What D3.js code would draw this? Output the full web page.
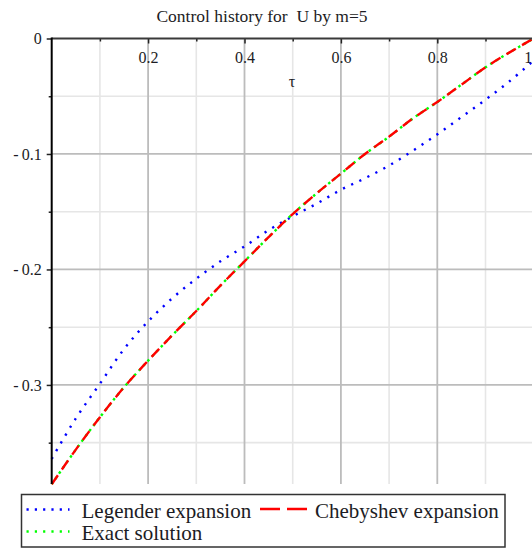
<!DOCTYPE html>
<html>
<head>
<meta charset="utf-8">
<script src="https://cdn.jsdelivr.net/npm/d3@7"></script>
<style>
  html, body { margin: 0; padding: 0; background: #fff; }
  svg { display: block; }
  text { font-family: "Liberation Serif", "Times New Roman", serif; fill: #1c1c24; }
</style>
</head>
<body>
<script>
// ---- data ----
const tau = [0, 0.05, 0.1, 0.15, 0.2, 0.25, 0.3, 0.35, 0.4, 0.45, 0.5, 0.55, 0.6, 0.65, 0.7, 0.75, 0.8, 0.85, 0.9, 0.95, 1.0];
const legendreU = [-0.364, -0.329, -0.299, -0.269, -0.245, -0.225, -0.208, -0.193, -0.180, -0.166, -0.154, -0.143, -0.131, -0.121, -0.110, -0.097, -0.083, -0.068, -0.053, -0.037, -0.019];
const chebyshevU = [-0.386, -0.356, -0.328, -0.302, -0.279, -0.257, -0.236, -0.214, -0.193, -0.172, -0.152, -0.134, -0.117, -0.100, -0.085, -0.069, -0.055, -0.040, -0.025, -0.012, 0.000];
const exactU = [-0.386, -0.356, -0.328, -0.302, -0.279, -0.257, -0.236, -0.214, -0.193, -0.172, -0.152, -0.134, -0.117, -0.100, -0.085, -0.069, -0.055, -0.040, -0.025, -0.012, 0.000];
const xMajorTicks = [0.2, 0.4, 0.6, 0.8, 1];
const xMinorTicks = [0.1, 0.3, 0.5, 0.7, 0.9];
const yMajorTicks = [0, -0.1, -0.2, -0.3];
const yMinorTicks = [-0.05, -0.15, -0.25, -0.35];
const seriesNames = ["Legender expansion", "Chebyshev expansion", "Exact solution"];
const titleText = "Control history for  U by m=5";
const xLabel = "τ";

// ---- layout ----
const W = 532, H = 549;
const x = d3.scaleLinear().domain([0, 1]).range([51.7, 533.7]);
const y = d3.scaleLinear().domain([0, -0.3858]).range([38.5, 484]);
const yBottom = 484, xRight = 532;

const svg = d3.select("body").append("svg").attr("width", W).attr("height", H);

// gridlines
const grid = svg.append("g");
grid.selectAll(".vmin").data(xMinorTicks).join("line")
  .attr("x1", d => x(d)).attr("x2", d => x(d)).attr("y1", y(0)).attr("y2", yBottom)
  .attr("stroke", "#e6e6e6").attr("stroke-width", 1.6);
grid.selectAll(".hmin").data(yMinorTicks).join("line")
  .attr("x1", x(0)).attr("x2", xRight).attr("y1", d => y(d)).attr("y2", d => y(d))
  .attr("stroke", "#e6e6e6").attr("stroke-width", 1.6);
grid.selectAll(".vmaj").data(xMajorTicks).join("line")
  .attr("x1", d => x(d)).attr("x2", d => x(d)).attr("y1", y(0)).attr("y2", yBottom)
  .attr("stroke", "#bcbcbc").attr("stroke-width", 1.8);
grid.selectAll(".hmaj").data(yMajorTicks.filter(d => d !== 0)).join("line")
  .attr("x1", x(0)).attr("x2", xRight).attr("y1", d => y(d)).attr("y2", d => y(d))
  .attr("stroke", "#bcbcbc").attr("stroke-width", 1.8);

// curves
const mk = vals => tau.map((t, i) => [t, vals[i]]);
const line = d3.line().x(d => x(d[0])).y(d => y(d[1])).curve(d3.curveCatmullRom.alpha(0.5));
svg.append("path").attr("d", line(mk(legendreU))).attr("fill", "none")
  .attr("stroke", "#0000ff").attr("stroke-width", 2.4).attr("stroke-dasharray", "2.2,6.8");
svg.append("path").attr("d", line(mk(exactU))).attr("fill", "none")
  .attr("stroke", "#00ff00").attr("stroke-width", 2.4).attr("stroke-dasharray", "2.5,4");
svg.append("path").attr("d", line(mk(chebyshevU))).attr("fill", "none")
  .attr("stroke", "#ff0000").attr("stroke-width", 2.4).attr("stroke-dasharray", "11,7");

// axes
const fmtY = d => d === 0 ? "0" : "-\u2009" + d3.format(".1f")(-d);
const fmtX = d => d === 1 ? "1" : d3.format(".1f")(d);

const xMaj = svg.append("g").attr("transform", `translate(0,${y(0)})`)
  .call(d3.axisBottom(x).tickValues(xMajorTicks).tickSize(5).tickPadding(7.8).tickFormat(fmtX));
const xMin = svg.append("g").attr("transform", `translate(0,${y(0)})`)
  .call(d3.axisBottom(x).tickValues(xMinorTicks).tickSize(3).tickFormat(""));
const yMaj = svg.append("g").attr("transform", `translate(${x(0)},0)`)
  .call(d3.axisLeft(y).tickValues(yMajorTicks).tickSize(5).tickPadding(5).tickFormat(fmtY));
const yMin = svg.append("g").attr("transform", `translate(${x(0)},0)`)
  .call(d3.axisLeft(y).tickValues(yMinorTicks).tickSize(3).tickFormat(""));

[xMaj, xMin, yMaj, yMin].forEach(g => {
  g.select(".domain").remove();
  g.selectAll(".tick line").attr("stroke", "#222").attr("stroke-width", 1.5);
  g.selectAll(".tick text").attr("font-size", 16).attr("font-family", "Liberation Serif, serif").attr("fill", "#1c1c24");
});
// keep the "1" label inside the picture
xMaj.selectAll(".tick").filter(d => d === 1).select("text").attr("x", -6);

// axis lines
svg.append("line").attr("x1", x(0)).attr("x2", xRight).attr("y1", y(0)).attr("y2", y(0))
  .attr("stroke", "#3a3a3a").attr("stroke-width", 2);
svg.append("line").attr("x1", x(0)).attr("x2", x(0)).attr("y1", y(0) - 1).attr("y2", yBottom)
  .attr("stroke", "#000").attr("stroke-width", 2);

// title & axis label
svg.append("text").attr("x", 262).attr("y", 22).attr("text-anchor", "middle")
  .attr("font-size", 17.5).style("white-space", "pre").text(titleText);
svg.append("text").attr("x", 292).attr("y", 87).attr("text-anchor", "middle")
  .attr("font-size", 16).text(xLabel);

// legend
const lg = svg.append("g");
lg.append("rect").attr("x", 21.5).attr("y", 494.5).attr("width", 483.5).attr("height", 52.5)
  .attr("fill", "#fff").attr("stroke", "#333").attr("stroke-width", 1.5);
const legendItems = [
  { name: seriesNames[0], color: "#0000ff", dash: "2.2,6.1", len: 43, lx: 26.5, ly: 509.5, tx: 81.5, ty: 518 },
  { name: seriesNames[1], color: "#ff0000", dash: "20,7", len: 47, lx: 260, ly: 509, tx: 315, ty: 518 },
  { name: seriesNames[2], color: "#00ff00", dash: "2.2,6.1", len: 43, lx: 26.5, ly: 531.5, tx: 81.5, ty: 540 }
];
legendItems.forEach(it => {
  lg.append("line").attr("x1", it.lx).attr("x2", it.lx + it.len)
    .attr("y1", it.ly).attr("y2", it.ly).attr("stroke", it.color).attr("stroke-width", 2.4)
    .attr("stroke-dasharray", it.dash);
  lg.append("text").attr("x", it.tx).attr("y", it.ty).attr("font-size", 21).text(it.name);
});
</script>
</body>
</html>
